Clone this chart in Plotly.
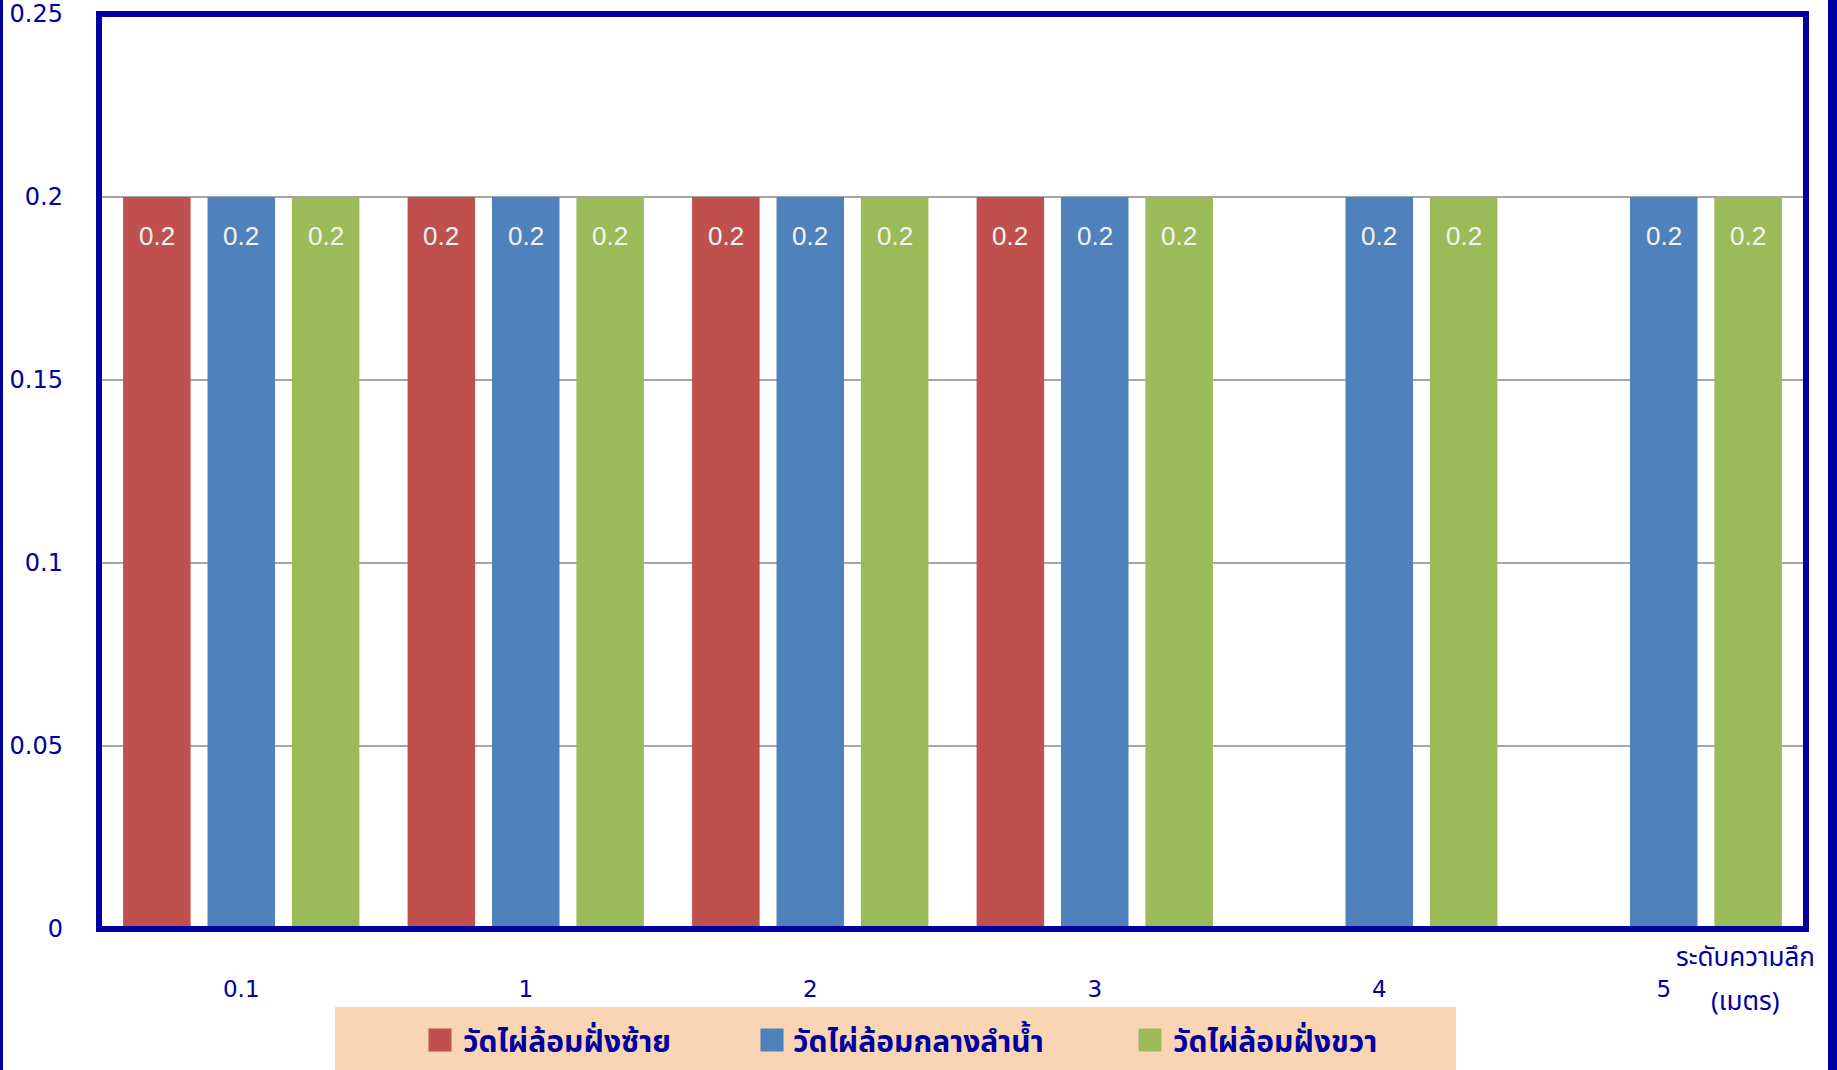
import plotly.graph_objects as go

categories = ["0.1", "1", "2", "3", "4", "5"]
series_names = ["วัดไผ่ล้อมฝั่งซ้าย", "วัดไผ่ล้อมกลางลำน้ำ", "วัดไผ่ล้อมฝั่งขวา"]
left_bank = [0.2, 0.2, 0.2, 0.2, None, None]
mid_stream = [0.2, 0.2, 0.2, 0.2, 0.2, 0.2]
right_bank = [0.2, 0.2, 0.2, 0.2, 0.2, 0.2]
colors = ["#C0504D", "#4F81BD", "#9BBB59"]
y_ticks = [0, 0.05, 0.1, 0.15, 0.2, 0.25]
y_ticktext = ["0", "0.05", "0.1", "0.15", "0.2", "0.25"]
axis_title_lines = ["ระดับความลึก", "(เมตร)"]

NAVY = "#0000A0"
W, H = 1837, 1070
ML, MR, MT, MB = 99, 31, 14, 141
PW = W - ML - MR
PH = H - MT - MB
BARGAP = 0.11
BARGROUPGAP = 0.2
LEGEND_ICON_X = [440, 772, 1150]   # pixel centres of legend swatches
LEGEND_TEXT_X = [463, 793, 1173]   # pixel starts of legend texts
LEGEND_Y = 1040
THAI_FONT = "Tahoma, Noto Sans Thai, Loma, Garuda, sans-serif"


def px_x(p):
    return (p - ML) / PW


def px_y(p):
    return (H - MB - p) / PH


fig = go.Figure()
all_series = [left_bank, mid_stream, right_bank]
legend_ids = ["legend", "legend2", "legend3"]
for name, vals, col, lid in zip(series_names, all_series, colors, legend_ids):
    fig.add_trace(go.Bar(
        x=categories, y=vals, name=name, legend=lid,
        marker=dict(color=col, line=dict(width=0)),
    ))

# value labels inside bars, placed from data
cat_w = PW / len(categories)
slot = cat_w * (1 - BARGAP) / len(all_series)
for si, vals in enumerate(all_series):
    off = (si - (len(all_series) - 1) / 2) * slot
    for ci, v in enumerate(vals):
        if v is None:
            continue
        fig.add_annotation(
            x=ci, y=v, xref="x", yref="y", text=f"{v:g}", showarrow=False,
            xshift=off, yshift=-39, yanchor="middle", xanchor="center",
            font=dict(family="Liberation Sans, Arial", size=26, color="#F4F4F4"),
        )

# legend background
fig.add_shape(type="rect", xref="paper", yref="paper",
              x0=px_x(335), x1=px_x(1456), y0=px_y(1075), y1=px_y(1007),
              fillcolor="#FAD5B4", line=dict(width=0), layer="below")
# enlarged legend swatches (behind legend icons)
for cx, col in zip(LEGEND_ICON_X, colors):
    fig.add_shape(type="rect", xref="paper", yref="paper",
                  x0=px_x(cx - 11.5), x1=px_x(cx + 11.5),
                  y0=px_y(LEGEND_Y + 11.5), y1=px_y(LEGEND_Y - 11.5),
                  fillcolor=col, line=dict(width=0), layer="above")

# plot frame
fig.add_shape(type="rect", xref="paper", yref="paper", x0=0, x1=1, y0=0, y1=1,
              line=dict(color=NAVY, width=6), layer="above")
# outer edge lines
fig.add_shape(type="line", xref="paper", yref="paper",
              x0=px_x(1.5), x1=px_x(1.5), y0=px_y(1080), y1=px_y(-10),
              line=dict(color=NAVY, width=3))
fig.add_shape(type="line", xref="paper", yref="paper",
              x0=px_x(1832.5), x1=px_x(1832.5), y0=px_y(1080), y1=px_y(-10),
              line=dict(color=NAVY, width=9))

# axis title
for line_text, ypix in zip(axis_title_lines, [958, 1002]):
    fig.add_annotation(xref="paper", yref="paper", x=px_x(1745), y=px_y(ypix),
                       text=line_text, showarrow=False, xanchor="center", yanchor="middle",
                       font=dict(family=THAI_FONT, size=26, color=NAVY))

legend_common = dict(orientation="h", xanchor="left", yanchor="middle",
                     y=px_y(LEGEND_Y), bgcolor="rgba(0,0,0,0)",
                     font=dict(family=THAI_FONT, size=30, color=NAVY, weight="bold"),
                     itemwidth=30)

fig.update_layout(
    width=W, height=H,
    margin=dict(l=ML, r=MR, t=MT, b=MB, autoexpand=False),
    paper_bgcolor="white", plot_bgcolor="white",
    barmode="group", bargap=BARGAP, bargroupgap=BARGROUPGAP,
    showlegend=True,
    legend=dict(x=px_x(LEGEND_TEXT_X[0] - 40), **legend_common),
    legend2=dict(x=px_x(LEGEND_TEXT_X[1] - 40), **legend_common),
    legend3=dict(x=px_x(LEGEND_TEXT_X[2] - 40), **legend_common),
    font=dict(family="DejaVu Sans", color=NAVY),
)
fig.update_xaxes(
    type="category", showgrid=False, showline=False, ticks="",
    tickfont=dict(family="DejaVu Sans", size=23, color=NAVY),
    ticklabelstandoff=44,
)
fig.update_yaxes(
    range=[0, 0.25], tickvals=y_ticks, ticktext=y_ticktext,
    showgrid=True, gridcolor="#A6A6A6", gridwidth=2, zeroline=False, showline=False,
    tickfont=dict(family="DejaVu Sans", size=24, color=NAVY),
    ticklabelstandoff=35,
)

fig.write_html("out.html", config={"displayModeBar": False},
               post_script="document.body.style.margin='0';document.body.style.overflow='hidden';")
